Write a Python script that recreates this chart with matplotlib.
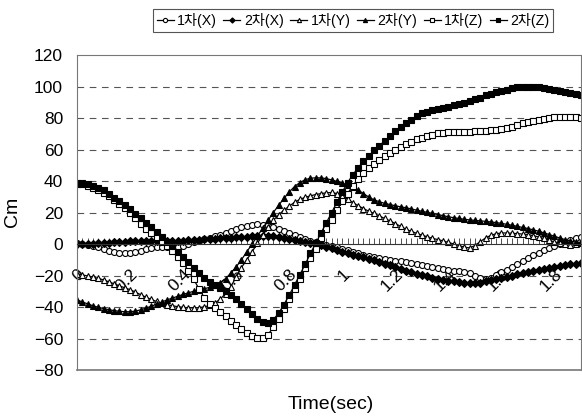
import numpy as np
import matplotlib
matplotlib.use("Agg")
import matplotlib.pyplot as plt

plt.rcParams['font.family'] = ['Liberation Sans', 'Noto Sans CJK KR']

# sample times (sec), 0.02 s step
time = np.round(np.arange(96) * 0.02, 2)

x_1st = [0.5, 0, -0.6, -1.3, -2.2, -3.2, -4.2, -5.1, -5.6, -5.8,
         -5.6, -5, -4.2, -3.3, -2.6, -2.2, -2, -2, -2.1, -2,
         -1, 0, 1, 2, 3, 4, 5, 6, 7.2, 8.4,
         9.5, 10.5, 11.3, 12, 12.4, 12.3, 11.8, 10.8, 9.6, 8.3,
         7, 5.7, 4.5, 3.3, 2.2, 1.2, 0.3, -0.6, -1.4, -2.2,
         -3, -3.9, -4.8, -5.8, -6.8, -7.7, -8.4, -9, -9.5, -10,
         -10.5, -11, -11.5, -12, -12.6, -13.2, -13.9, -14.6, -15.2, -15.8,
         -16.4, -16.9, -17.3, -17.8, -18.7, -20, -21.5, -22, -21.5, -19.8,
         -18, -16.3, -14.5, -12.6, -10.8, -9, -7.2, -5.5, -3.8, -2.5,
         -1.3, -0.3, 1, 2.3, 3.5, 4.5]

x_2nd = [0, 0.1, 0.2, 0.3, 0.5, 0.7, 0.9, 1.1, 1.3, 1.5,
         1.6, 1.7, 1.8, 1.9, 2, 2, 2, 2, 2, 2.1,
         2.2, 2.4, 2.6, 2.8, 3, 3.2, 3.4, 3.6, 3.8, 4,
         4.2, 4.4, 4.6, 4.8, 5, 5, 5, 4.8, 4.5, 4,
         3.4, 2.7, 2, 1.3, 0.7, 0, -0.8, -1.7, -2.7, -3.7,
         -4.8, -5.8, -6.7, -7.6, -8.5, -9.4, -10.4, -11.4, -12.5, -13.6,
         -14.7, -15.8, -16.9, -18, -19, -19.8, -20.6, -21.3, -22, -22.6,
         -23.2, -23.8, -24.3, -24.7, -25, -25, -24.6, -23.8, -23, -22.2,
         -21.4, -20.7, -20, -19.3, -18.6, -18, -17.3, -16.6, -15.9, -15.2,
         -14.6, -14, -13.4, -12.9, -12.4, -12]

y_1st = [-19, -19.6, -20.3, -21, -21.8, -22.8, -24, -25.3, -26.6, -27.8,
         -29, -30.5, -32.2, -33.8, -35.2, -36.5, -37.6, -38.5, -39.2, -39.8,
         -40.2, -40.5, -40.6, -40.4, -39.9, -39, -37.5, -35, -31.5, -27,
         -21, -15, -10, -5, 0.5, 5.5, 10.5, 15, 18.5, 21.5,
         24, 26.5, 28.3, 29.6, 30.6, 31.4, 32, 32.5, 32.7, 32,
         30.5, 28.5, 26.3, 24.3, 22.5, 20.8, 19.4, 17.8, 16.2, 14.6,
         13, 11.2, 9.4, 8, 6.8, 5.6, 4.6, 3.6, 2.8, 2,
         1, 0, -1, -2, -2.5, -1, 1.5, 3.8, 5.5, 6.5,
         7, 7, 6.8, 6.6, 6.3, 6, 5.3, 4.5, 3.5, 2.4,
         1.3, 0.5, -0.2, -0.6, 0, 1.5]

y_2nd = [-35.5, -36.8, -38, -39.2, -40.2, -41, -41.7, -42.3, -42.7, -43,
         -43, -42.6, -41.8, -40.7, -39.5, -38.2, -36.8, -35.5, -34.3, -33.2,
         -32, -31, -30, -29.2, -28.4, -27.5, -26.2, -24.5, -22, -18.5,
         -14.5, -10, -5, 0, 5, 10, 15, 20, 24.5, 29,
         33, 36.5, 39, 40.8, 41.8, 42, 42, 41.5, 40.7, 39.7,
         38.6, 37.4, 36, 34.2, 32, 29.8, 28, 26.8, 25.8, 25,
         24.3, 23.6, 23, 22.3, 21.5, 20.8, 20.1, 19.4, 18.7, 18,
         17.3, 16.7, 16.2, 15.7, 15.3, 15, 14.7, 14.4, 14, 13.6,
         13.1, 12.5, 11.9, 11.2, 10.5, 9.8, 9, 8.1, 7.1, 6,
         4.9, 3.8, 2.8, 1.9, 1.2, 0.6]

z_1st = [38, 37.8, 37, 35.8, 34.2, 32.3, 30.2, 28, 25.5, 22.8,
         20, 16.5, 13, 9.8, 7, 4.3, 1.5, -1.5, -4.5, -8,
         -12, -17, -22.5, -28.5, -34, -38, -40.5, -43, -46, -49,
         -51.5, -54, -56.5, -58.5, -59.5, -59.5, -57.5, -53, -47.5, -41.5,
         -35, -28.5, -22, -15.5, -9, -3, 3.5, 9.5, 15.5, 21.5,
         27, 32, 37, 41.5, 45, 48, 51, 53.5, 56, 58,
         60, 61.8, 63.5, 65, 66.4, 67.6, 68.6, 69.5, 70.2, 70.6,
         70.9, 71, 71, 71.1, 71.3, 71.5, 71.7, 71.9, 72.1, 72.5,
         73, 73.7, 74.6, 75.6, 76.6, 77.5, 78.3, 79, 79.6, 80.1,
         80.4, 80.6, 80.7, 80.6, 80.4, 80.2]

z_2nd = [39, 38.8, 38, 37, 35.8, 34, 32, 29.5, 27, 24.5,
         22, 19, 16.5, 13.5, 10.5, 7.5, 4.5, 1.5, -1.5, -5,
         -8, -11.5, -15, -18.5, -21.5, -24, -26, -28, -30, -32.5,
         -35, -38, -41.5, -44.5, -47.5, -49.5, -50, -48, -44, -38.5,
         -32.5, -26, -19.5, -13, -6, 0.5, 7, 13.5, 20, 26.5,
         33, 39, 44, 48.5, 52.5, 56, 59.5, 62.5, 65.5, 68.5,
         71.5, 74.5, 77, 79, 81, 83, 84, 85, 86, 86.5,
         87.2, 88, 89, 89.8, 90.8, 91.8, 93, 94.3, 95.5, 96.5,
         97.3, 98, 98.8, 99.4, 99.8, 100, 100, 99.7, 99.2, 98.6,
         98, 97.3, 96.6, 96, 95.3, 94.6]

series_names = ['1차(X)', '2차(X)', '1차(Y)', '2차(Y)', '1차(Z)', '2차(Z)']
xtick_vals = [0, 0.2, 0.4, 0.6, 0.8, 1.0, 1.2, 1.4, 1.6, 1.8]
xtick_text = ['0', '0.2', '0.4', '0.6', '0.8', '1', '1.2', '1.4', '1.6', '1.8']
ytick_vals = [-80, -60, -40, -20, 0, 20, 40, 60, 80, 100, 120]

fig = plt.figure(figsize=(5.82, 4.19), dpi=100)
ax = fig.add_axes([77 / 582, 49 / 419, 504 / 582, 315 / 419])

# dashed gridlines
for v in [-60, -40, -20, 20, 40, 60, 80, 100]:
    ax.axhline(v, color='#555555', lw=0.8, dashes=(6, 5), zorder=0)

styles = [
    dict(marker='o', mfc='white'),
    dict(marker='D', mfc='black', ms=3.8),
    dict(marker='^', mfc='white'),
    dict(marker='^', mfc='black'),
    dict(marker='s', mfc='white'),
    dict(marker='s', mfc='black'),
]
data = [x_1st, x_2nd, y_1st, y_2nd, z_1st, z_2nd]
for vals, name, st in zip(data, series_names, styles):
    kw = dict(color='black', lw=0.9, ms=4.3, mec='black', mew=0.8)
    kw.update(st)
    ax.plot(time, vals, label=name, **kw)

ax.set_xlim(0, 1.9)
ax.set_ylim(-80, 120)

# category axis crossing at 0
ax.spines['bottom'].set_position(('data', 0))
ax.spines['bottom'].set_color('#333333')
ax.spines['bottom'].set_linewidth(0.8)
for s in ['left', 'top', 'right']:
    ax.spines[s].set_color('#777777')
    ax.spines[s].set_linewidth(0.8)
ax.axhline(-80, color='#777777', lw=1.2, clip_on=False)

ax.set_xticks(xtick_vals)
ax.set_xticklabels(xtick_text, rotation=45, ha='right', va='top',
                   rotation_mode='anchor', fontsize=12.5)
ax.set_xticks(time, minor=True)
ax.tick_params(axis='x', which='both', direction='in', length=4,
               color='#333333', width=0.6, pad=16)
ax.set_yticks(ytick_vals)
ax.tick_params(axis='y', length=0, pad=10, labelsize=12.5)

fig.text(13 / 582, 1 - 212 / 419, 'Cm', rotation=90, ha='center', va='center',
         fontsize=14)
fig.text(331 / 582, 1 - 404 / 419, 'Time(sec)', ha='center', va='center',
         fontsize=14)

leg = fig.legend(loc='center', bbox_to_anchor=(353 / 582, 1 - 20.5 / 419),
                 ncol=6, fontsize=10.2, handlelength=1.2, handletextpad=0.25,
                 columnspacing=0.45, borderpad=0.25, fancybox=False,
                 framealpha=1, edgecolor='#555555', markerscale=0.7)
leg.get_frame().set_linewidth(0.8)

fig.savefig('out.png', dpi=100)
